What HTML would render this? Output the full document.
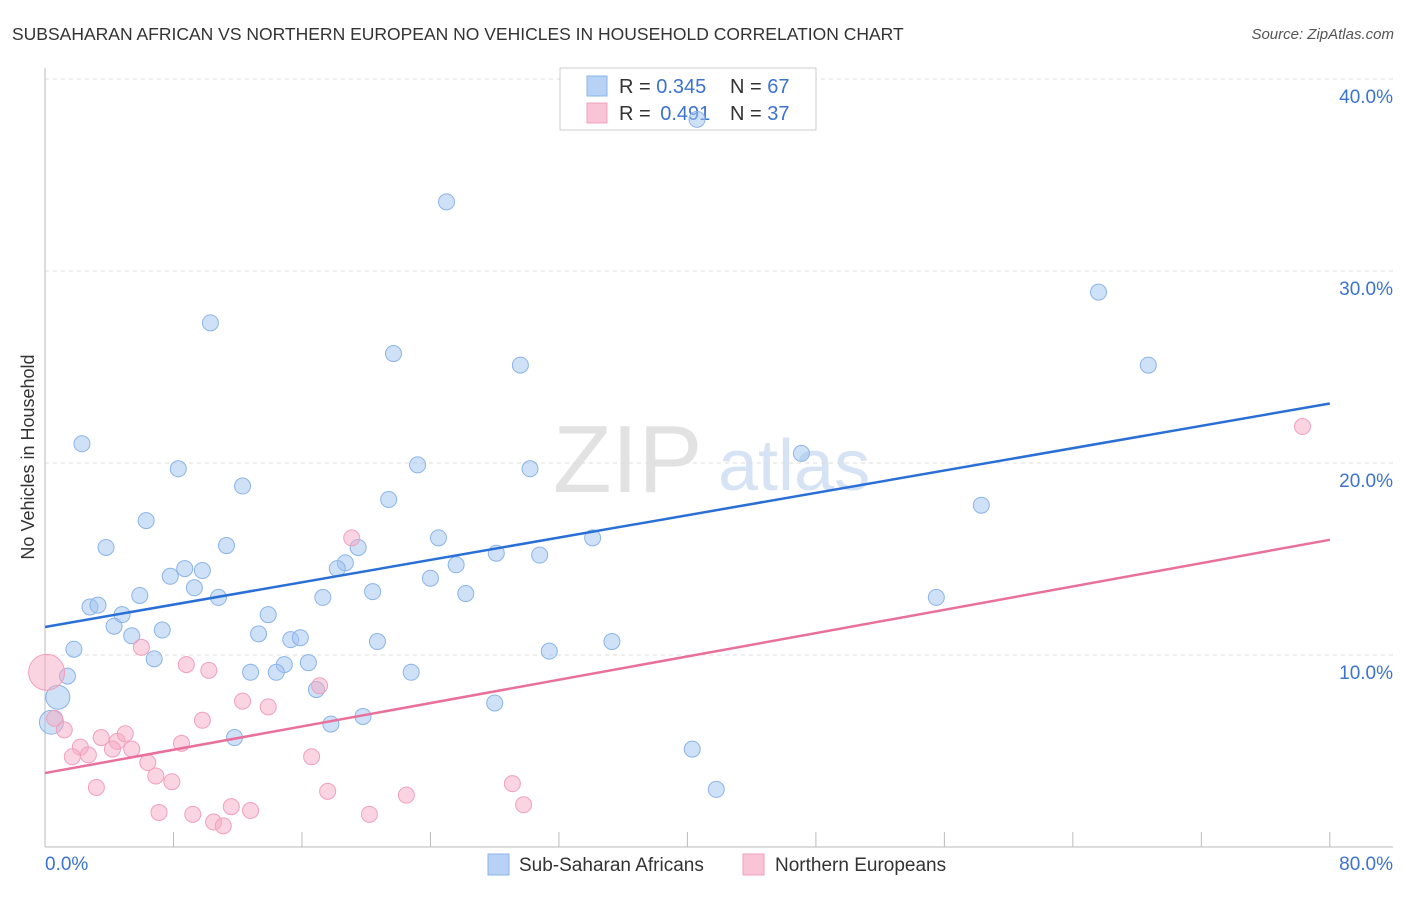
<!DOCTYPE html>
<html><head><meta charset="utf-8"><style>
body{margin:0;background:#fff;font-family:"Liberation Sans",sans-serif}
svg text{font-family:"Liberation Sans",sans-serif}
</style></head><body>
<svg id="c" width="1406" height="892">
<text x="12" y="40" font-size="17.5" fill="#333">SUBSAHARAN AFRICAN VS NORTHERN EUROPEAN NO VEHICLES IN HOUSEHOLD CORRELATION CHART</text>
<text x="1394" y="39" font-size="15" fill="#555" font-style="italic" text-anchor="end">Source: ZipAtlas.com</text>
<g><text x="553" y="492" font-size="96" fill="#e2e2e2" font-family="Liberation Serif,serif">ZIP</text><text x="718" y="490" font-size="72" fill="#d5e3f5">atlas</text></g>
<g id="grid"></g><g id="axes"></g>
<text transform="translate(34,457) rotate(-90)" font-size="18" fill="#333" text-anchor="middle">No Vehicles in Household</text>
<g>
<rect x="560" y="68" width="256" height="62" fill="#fff" stroke="#ccc"/>
<rect x="587" y="76" width="20" height="20" fill="#b8d2f5" stroke="#8ab4e8"/>
<rect x="587" y="103" width="20" height="20" fill="#f9c5d6" stroke="#f0a0bc"/>
<text x="619" y="93" font-size="20" fill="#333">R = <tspan fill="#3b73d0">0.345</tspan></text>
<text x="730" y="93" font-size="20" fill="#333">N = <tspan fill="#3b73d0">67</tspan></text>
<text x="619" y="120" font-size="20" fill="#333">R = <tspan fill="#3b73d0" dx="4">0.491</tspan></text>
<text x="730" y="120" font-size="20" fill="#333">N = <tspan fill="#3b73d0">37</tspan></text>
</g>
<g id="pts"></g><g id="lines"></g>
<g>
<rect x="488" y="854" width="21" height="21" fill="#b8d2f5" stroke="#8ab4e8"/>
<text x="519" y="871" font-size="19" fill="#333">Sub-Saharan Africans</text>
<rect x="743" y="854" width="21" height="21" fill="#f9c5d6" stroke="#f0a0bc"/>
<text x="775" y="871" font-size="19" fill="#333">Northern Europeans</text>
</g>
</svg>
<script>
const blueX=[40.6,25.0,10.3,65.6,21.7,29.6,68.7,2.3,8.3,23.2,30.2,47.1,12.3,21.4,58.3,6.3,3.8,11.3,19.5,24.5,34.1,28.1,30.8,18.7,25.6,8.7,9.8,7.8,18.2,24.0,9.3,20.4,26.2,5.9,10.8,17.3,55.5,2.8,3.3,4.8,13.9,4.3,7.3,5.4,13.3,15.3,15.9,20.7,35.3,1.8,31.4,6.8,16.4,14.9,12.8,14.4,22.8,1.4,16.9,0.8,28.0,19.8,17.8,0.4,11.8,40.3,41.8];
const blueY=[37.9,33.6,27.3,28.9,25.7,25.1,25.1,21.0,19.7,19.9,19.7,20.5,18.8,18.1,17.8,17.0,15.6,15.7,15.6,16.1,16.1,15.3,15.2,14.8,14.7,14.5,14.4,14.1,14.5,14.0,13.5,13.3,13.2,13.1,13.0,13.0,13.0,12.5,12.6,12.1,12.1,11.5,11.3,11.0,11.1,10.8,10.9,10.7,10.7,10.3,10.2,9.8,9.6,9.5,9.1,9.1,9.1,8.9,8.2,7.8,7.5,6.8,6.4,6.5,5.7,5.1,3.0];
const pinkX=[0.1,0.6,1.2,6.0,19.1,8.8,10.2,2.2,1.7,2.7,3.5,4.5,5.0,4.2,5.4,8.5,9.8,12.3,13.9,17.1,16.6,6.4,6.9,7.9,3.2,7.1,9.2,10.5,11.1,11.6,12.8,17.6,20.2,22.5,29.1,29.8,78.3];
const pinkY=[9.1,6.7,6.1,10.4,16.1,9.5,9.2,5.2,4.7,4.8,5.7,5.5,5.9,5.1,5.1,5.4,6.6,7.6,7.3,8.4,4.7,4.4,3.7,3.4,3.1,1.8,1.7,1.3,1.1,2.1,1.9,2.9,1.7,2.7,3.3,2.2,21.9];
const blueTrend=[11.46,23.1];
const pinkTrend=[3.85,16.0];
const yTicks=[10,20,30,40];
const xTicks=[0,8,16,24,32,40,48,56,64,72,80];
const NS='http://www.w3.org/2000/svg';
const sx=v=>45+v*16.06, sy=v=>847-v*19.2;
function mk(p,t,a){const e=document.createElementNS(NS,t);for(const k in a)e.setAttribute(k,a[k]);document.getElementById(p).appendChild(e);return e;}
yTicks.forEach(v=>{
 const g=mk('grid','line',{x1:45,x2:1393,y1:sy(v),y2:sy(v),stroke:'#ddd','stroke-dasharray':'4,4'});
 
 
 const t=mk('grid','text',{x:1393,y:sy(v)+24,'font-size':19,fill:'#3b73d0','text-anchor':'end'});t.textContent=v.toFixed(1)+'%';
 
 
});
mk('axes','line',{x1:45,x2:45,y1:68,y2:847,stroke:'#bbb'});
mk('axes','line',{x1:45,x2:1393,y1:847,y2:847,stroke:'#bbb'});
xTicks.forEach(v=>{const l=mk('axes','line',{x1:sx(v),x2:sx(v),y1:832,y2:847,stroke:'#bbb'});
 
 });
[[0,'0.0%','start',45],[80,'80.0%','end',1393]].forEach(a=>{const t=mk('axes','text',{x:a[3],y:870,'font-size':19,fill:'#3b73d0','text-anchor':a[2]});t.textContent=a[1];
 
 });
blueX.forEach((x,i)=>{const big=(i==59||i==63);const c=mk('pts','circle',{cx:sx(x),cy:sy(blueY[i]),r:big?12:8,fill:'rgba(160,196,240,0.5)',stroke:'#8ab4e8','stroke-width':1});
 
 });
pinkX.forEach((x,i)=>{const c=mk('pts','circle',{cx:sx(x),cy:sy(pinkY[i]),r:i==0?18:8,fill:'rgba(245,170,195,0.5)',stroke:'#f0a0bc','stroke-width':1});
 
 });
const bl=mk('lines','line',{x1:sx(0),x2:sx(80),y1:sy(blueTrend[0]),y2:sy(blueTrend[1]),stroke:'#2a6fd6','stroke-width':2.5});


const pl=mk('lines','line',{x1:sx(0),x2:sx(80),y1:sy(pinkTrend[0]),y2:sy(pinkTrend[1]),stroke:'#e8709a','stroke-width':2.5});


</script>
</body></html>
